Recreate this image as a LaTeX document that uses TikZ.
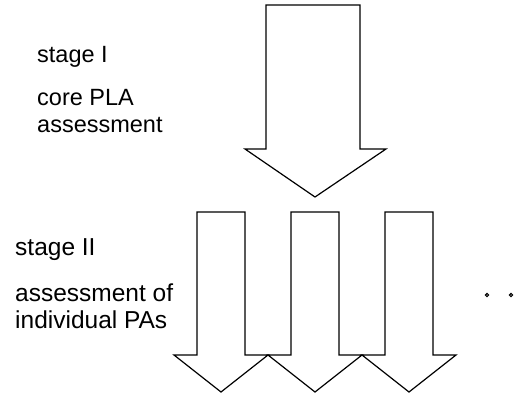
\documentclass[tikz,border=0pt]{standalone}
\usepackage{fontspec}
\setmainfont{Liberation Sans}
\begin{document}
\begin{tikzpicture}[x=1pt,y=-1pt,
  arrowshape/.style={draw=black,line width=1.2pt,line join=miter,fill=white},
  lbl/.style={anchor=base west,inner sep=0pt,font=\fontsize{23.5}{27}\selectfont},
  lblb/.style={anchor=base west,inner sep=0pt,font=\fontsize{24.5}{28}\selectfont},
  dotmark/.style={draw=black,line width=1.2pt,fill=white}]
\useasboundingbox (0,0) rectangle (530,394);
% stage I arrow
\draw[arrowshape] (266,5) -- (360,5) -- (360,149) -- (386,149) -- (315,197) -- (245,149) -- (266,149) -- cycle;
% stage II arrows
\foreach \c/\n in {221/a,315/b,409/c}{
  \draw[arrowshape] (\c-24,212) -- (\c+24,212) -- (\c+24,355) -- (\c+47,355) -- (\c,392) -- (\c-47,355) -- (\c-24,355) -- cycle;
}
% labels
\node[lbl] (s1) at (37,62) {stage I};
\node[lbl] (c1) at (37,105) {core PLA};
\node[lbl] (c2) at (37,132) {assessment};
\node[lblb] (s2) at (15,255) {stage II};
\node[lblb] (a1) at (15,301) {assessment of};
\node[lblb] (a2) at (15,328) {individual PAs};
% continuation dots
\draw[dotmark] (487,295) circle (1.6);
\draw[dotmark] (511,295) circle (1.6);
\end{tikzpicture}
\end{document}
